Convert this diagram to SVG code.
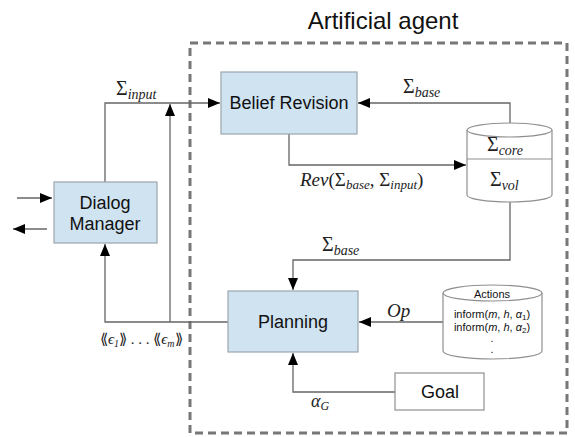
<svg xmlns="http://www.w3.org/2000/svg" width="575" height="437" viewBox="0 0 575 437">
<style>
.box{fill:#cfe3f1;stroke:#9aa6ad;stroke-width:1.2}
.wbox{fill:#fff;stroke:#8f8f8f;stroke-width:1.2}
.lbl{font-family:"Liberation Sans",Arial,sans-serif;font-size:18px;fill:#111;text-anchor:middle}
.m{font-family:"Liberation Serif","DejaVu Serif",serif;font-size:20px;fill:#222}
.mi{font-style:italic}
.sub{font-size:14px;font-style:italic}
.c{fill:none;stroke:#666;stroke-width:1.3}
.small{font-family:"Liberation Sans",Arial,sans-serif;font-size:11px;fill:#111;text-anchor:middle}
</style>
<defs>
<marker id="ah" viewBox="0 0 12 10" refX="12" refY="5" markerWidth="12" markerHeight="10" markerUnits="userSpaceOnUse" orient="auto">
<path d="M0,0 L12,5 L0,10 z" fill="#000"/>
</marker>
</defs>
<rect x="190" y="43" width="377" height="390" fill="none" stroke="#777" stroke-width="3" stroke-dasharray="8,5"/>
<text x="383" y="29" font-family="Liberation Sans,Arial,sans-serif" font-size="24" fill="#111" text-anchor="middle">Artificial agent</text>
<g id="connectors">
<path class="c" d="M17,198 H52" marker-end="url(#ah)"/>
<path class="c" d="M47,229 H13" marker-end="url(#ah)"/>
<path class="c" d="M105,182 V103 H220" marker-end="url(#ah)"/>
<path class="c" d="M170,322 V104" marker-end="url(#ah)"/>
<path class="c" d="M228,322 H105 V244" marker-end="url(#ah)"/>
<path class="c" d="M510,124 V103 H358" marker-end="url(#ah)"/>
<path class="c" d="M289,134 V165 H466" marker-end="url(#ah)"/>
<path class="c" d="M510,202 V260 H293 V290" marker-end="url(#ah)"/>
<path class="c" d="M443,322 H359" marker-end="url(#ah)"/>
<path class="c" d="M395,392 H293 V353" marker-end="url(#ah)"/>
<text class="m" x="116" y="95">Σ<tspan class="sub" dy="4">input</tspan></text>
<text class="m" x="403" y="93">Σ<tspan class="sub" dy="4">base</tspan></text>
<text class="m" x="300" y="186" style="font-size:19px"><tspan class="mi">Rev</tspan>(Σ<tspan class="sub" style="font-size:13px" dy="3">base</tspan><tspan dy="-3">, Σ</tspan><tspan class="sub" style="font-size:13px" dy="3">input</tspan><tspan dy="-3">)</tspan></text>
<text class="m" x="322" y="251">Σ<tspan class="sub" dy="4">base</tspan></text>
<text class="m mi" x="387" y="317" style="font-size:19px">Op</text>
<text class="m" x="311" y="407" style="font-size:18px"><tspan class="mi">α</tspan><tspan class="sub" style="font-size:12px" dy="3">G</tspan></text>
<text class="m" x="100" y="344" style="font-size:15px">⟪<tspan class="mi">ϵ</tspan><tspan class="sub" style="font-size:10px" dy="3">1</tspan><tspan dy="-3">⟫ . . . ⟪</tspan><tspan class="mi">ϵ</tspan><tspan class="sub" style="font-size:10px" dy="3">m</tspan><tspan dy="-3">⟫</tspan></text>
</g>
<g id="dialog-manager">
<rect class="box" x="54" y="182" width="103" height="61"/>
<text class="lbl" x="105" y="209">Dialog</text>
<text class="lbl" x="105" y="230">Manager</text>
</g>
<g id="belief-revision">
<rect class="box" x="221" y="72" width="136" height="62"/>
<text class="lbl" x="289" y="109">Belief Revision</text>
</g>
<g id="knowledge-base">
<path class="wbox" d="M467,130 V195 A42.5,7 0 0 0 552,195 V130"/>
<ellipse class="wbox" cx="509.5" cy="130" rx="42.5" ry="7"/>
<line x1="467" y1="159" x2="552" y2="159" stroke="#8f8f8f" stroke-width="1.2"/>
<text class="m" x="487" y="151">Σ<tspan class="sub" dy="4">core</tspan></text>
<text class="m" x="490" y="186">Σ<tspan class="sub" dy="4">vol</tspan></text>
</g>
<g id="planning">
<rect class="box" x="228" y="291" width="130" height="61"/>
<text class="lbl" x="293" y="328">Planning</text>
</g>
<g id="actions">
<path class="wbox" d="M443,293 V351 A49.5,8 0 0 0 542,351 V293"/>
<ellipse class="wbox" cx="492.5" cy="293" rx="49.5" ry="8"/>
<text class="small" x="492" y="298">Actions</text>
<text class="small" x="492" y="318">inform(<tspan font-style="italic">m</tspan>, <tspan font-style="italic">h</tspan>, <tspan font-style="italic">α</tspan><tspan style="font-size:8px" dy="2">1</tspan><tspan dy="-2">)</tspan></text>
<text class="small" x="492" y="331">inform(<tspan font-style="italic">m</tspan>, <tspan font-style="italic">h</tspan>, <tspan font-style="italic">α</tspan><tspan style="font-size:8px" dy="2">2</tspan><tspan dy="-2">)</tspan></text>
<text class="small" x="492" y="342">.</text>
<text class="small" x="492" y="353">.</text>
</g>
<g id="goal">
<rect class="wbox" x="395" y="373" width="89" height="37"/>
<text class="lbl" x="440" y="398">Goal</text>
</g>
</svg>
